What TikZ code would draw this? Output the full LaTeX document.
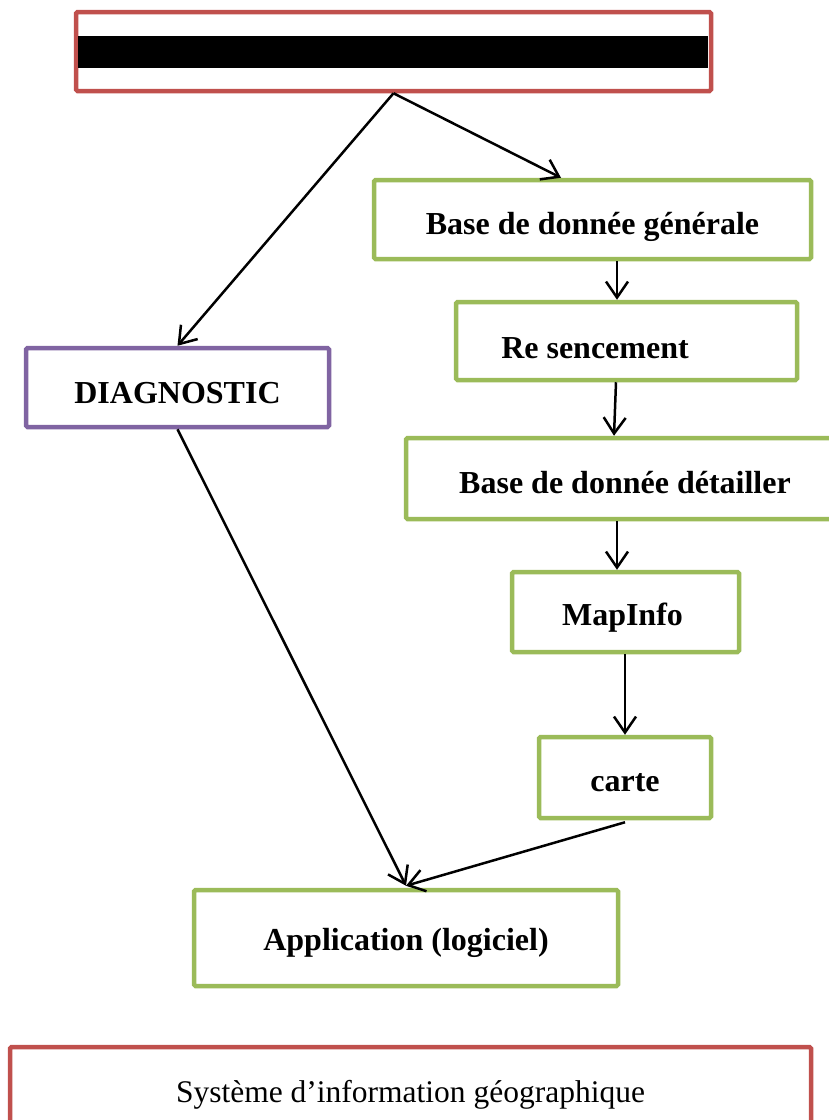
\documentclass[tikz,border=0pt]{standalone}
\usepackage{fontspec}
\setmainfont{Liberation Serif}
\usetikzlibrary{arrows.meta}
\definecolor{ored}{HTML}{C0504D}
\definecolor{ogreen}{HTML}{9BBB59}
\definecolor{opurple}{HTML}{8064A2}
\newcommand{\lowr}[2]{\raisebox{-#1}[\height][\depth]{#2}}
\tikzset{
  box/.style={draw, line width=4.5pt, rounded corners=1.5pt, fill=white, inner sep=0pt,
              font=\fontsize{32}{38}\selectfont\bfseries, align=center},
  gbox/.style={box, draw=ogreen},
  arr/.style={line width=2.5pt, -{Straight Barb[length=16pt, width=22pt, line width=2.5pt]}},
}
\begin{document}
\begin{tikzpicture}[x=1pt, y=-1pt]
\useasboundingbox (0,0) rectangle (829,1120);
\clip (0,0) rectangle (829,1120);
% top box
\node[box, draw=ored, minimum width=635pt, minimum height=79pt] (top) at (393.5,51.5) {};
\node[fill=black, inner sep=0pt, minimum width=630pt, minimum height=32pt] (bar) at (393,52) {};
% boxes
\node[gbox, minimum width=437pt, minimum height=79pt] (bdg) at (592.5,219.5) {\lowr{7pt}{Base de donnée générale}};
\node[gbox, minimum width=341pt, minimum height=78pt] (rs) at (626.5,341) {\lowr{7pt}{Re sencement}\hspace{63pt}};
\node[box, draw=opurple, minimum width=303pt, minimum height=79pt] (diag) at (177.5,387.5) {\lowr{6pt}{DIAGNOSTIC}};
\node[gbox, minimum width=426pt, minimum height=81pt] (bdd) at (619,478.5) {\hspace{12pt}\lowr{4pt}{Base de donnée détailler}};
\node[gbox, minimum width=227pt, minimum height=80pt] (map) at (625.5,612) {\lowr{6pt}{MapInfo}\hspace{6pt}};
\node[gbox, minimum width=172pt, minimum height=81pt] (carte) at (625,777.5) {\lowr{5pt}{carte}};
\node[gbox, minimum width=424pt, minimum height=96pt] (app) at (406,938) {\lowr{5pt}{Application (logiciel)}};
\node[box, draw=ored, minimum width=801pt, minimum height=100pt, font=\fontsize{31.5}{37}\selectfont] (sig) at (410.5,1097) {\raisebox{12pt}{Système d’information géographique}};
% arrows
\draw[arr] (top.south) -- (diag.north);
\draw[arr] (top.south) -- ([xshift=-31.5pt]bdg.north);
\draw[arr] ([xshift=24.5pt]bdg.south) -- ([xshift=-9.5pt]rs.north);
\draw[arr] ([xshift=-10.5pt]rs.south) -- ([xshift=-5pt]bdd.north);
\draw[arr] ([xshift=-2pt]bdd.south) -- ([xshift=-8.5pt]map.north);
\draw[arr] ([xshift=-0.5pt]map.south) -- (carte.north);
\draw[arr] (diag.south) -- ([yshift=2pt]app.north);
\draw[arr] ([yshift=-2pt]carte.south) -- ([yshift=2pt]app.north);
\end{tikzpicture}
\end{document}
